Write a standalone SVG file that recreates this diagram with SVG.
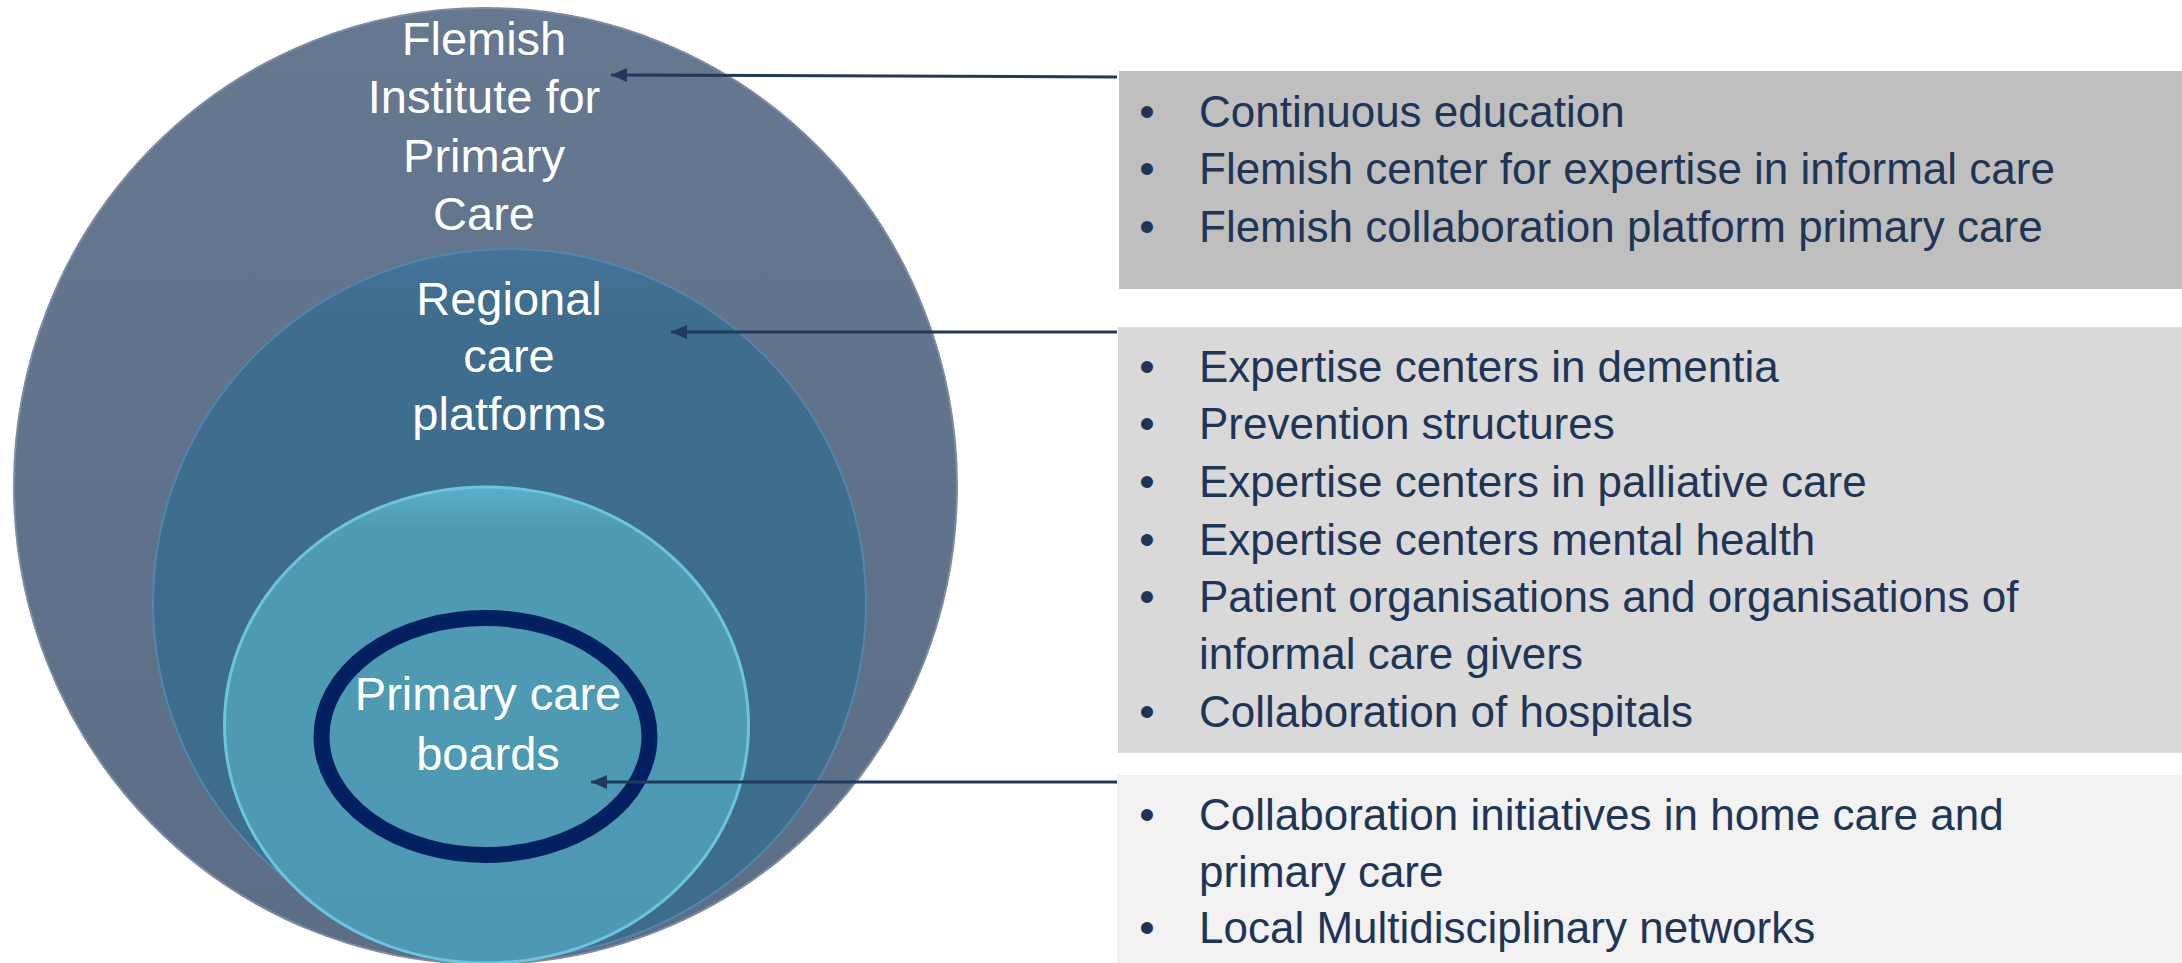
<svg xmlns="http://www.w3.org/2000/svg" width="2182" height="963" viewBox="0 0 2182 963">
<style>
.lbl{font-family:"Liberation Sans",Arial,sans-serif;font-size:47px;fill:#ffffff;text-anchor:middle}
.li{font-family:"Liberation Sans",Arial,sans-serif;font-size:44px;fill:#1f3556}
.bul{font-family:"Liberation Sans",Arial,sans-serif;font-size:44px;fill:#1f3556;text-anchor:middle}
.conn{stroke:#1f3a5a;stroke-width:3;fill:none}
</style>
<defs>
<marker id="ah" markerUnits="userSpaceOnUse" markerWidth="18" markerHeight="16" refX="16" refY="8" orient="auto">
<path d="M0,1 L16,8 L0,15 Z" fill="#1f3a5a"/>
</marker>
<linearGradient id="gOuter" x1="0" y1="0" x2="0" y2="1">
<stop offset="0" stop-color="#66788f"/>
<stop offset="1" stop-color="#5c6e86"/>
</linearGradient>
<linearGradient id="gMid" x1="0" y1="0" x2="0" y2="1">
<stop offset="0" stop-color="#44729a"/>
<stop offset="0.1" stop-color="#3f6d8d"/>
<stop offset="1" stop-color="#3e6c8c"/>
</linearGradient>
<linearGradient id="gIn" x1="0" y1="0" x2="0" y2="1">
<stop offset="0" stop-color="#5aaecb"/>
<stop offset="0.08" stop-color="#4f9bb4"/>
<stop offset="1" stop-color="#4d99b3"/>
</linearGradient>
</defs>

<g id="outer-circle">
<ellipse cx="485.5" cy="486" rx="471.5" ry="478" fill="url(#gOuter)" stroke="#7d8ca2" stroke-width="2"/>
<text class="lbl" x="484" y="55">Flemish</text>
<text class="lbl" x="484" y="113">Institute for</text>
<text class="lbl" x="484" y="172">Primary</text>
<text class="lbl" x="484" y="230">Care</text>
</g>

<g id="middle-circle">
<ellipse cx="509.5" cy="603" rx="356.5" ry="354" fill="url(#gMid)" stroke="#5288ad" stroke-width="2"/>
<text class="lbl" x="509" y="315">Regional</text>
<text class="lbl" x="509" y="372">care</text>
<text class="lbl" x="509" y="430">platforms</text>
</g>

<g id="inner-circle">
<ellipse cx="486.5" cy="725" rx="262" ry="238" fill="url(#gIn)" stroke="#6cc4e0" stroke-width="3"/>
<ellipse cx="485.5" cy="736.5" rx="164" ry="118.5" fill="none" stroke="#002060" stroke-width="16"/>
<text class="lbl" x="488" y="710">Primary care</text>
<text class="lbl" x="488" y="770">boards</text>
</g>

<g id="box-flemish">
<rect x="1119" y="71" width="1063" height="218" fill="#bfbfbf"/>
<text class="bul" x="1147" y="127">•</text>
<text class="li" x="1199" y="127">Continuous education</text>
<text class="bul" x="1147" y="184">•</text>
<text class="li" x="1199" y="184">Flemish center for expertise in informal care</text>
<text class="bul" x="1147" y="242">•</text>
<text class="li" x="1199" y="242">Flemish collaboration platform primary care</text>
</g>

<g id="box-regional">
<rect x="1118" y="327" width="1064" height="426" fill="#d9d9d9"/>
<text class="bul" x="1147" y="382">•</text>
<text class="li" x="1199" y="382">Expertise centers in dementia</text>
<text class="bul" x="1147" y="439">•</text>
<text class="li" x="1199" y="439">Prevention structures</text>
<text class="bul" x="1147" y="497">•</text>
<text class="li" x="1199" y="497">Expertise centers in palliative care</text>
<text class="bul" x="1147" y="555">•</text>
<text class="li" x="1199" y="555">Expertise centers mental health</text>
<text class="bul" x="1147" y="612">•</text>
<text class="li" x="1199" y="612">Patient organisations and organisations of</text>
<text class="li" x="1199" y="669">informal care givers</text>
<text class="bul" x="1147" y="727">•</text>
<text class="li" x="1199" y="727">Collaboration of hospitals</text>
</g>

<g id="box-local">
<rect x="1117" y="775" width="1065" height="188" fill="#f2f2f2"/>
<text class="bul" x="1147" y="830">•</text>
<text class="li" x="1199" y="830">Collaboration initiatives in home care and</text>
<text class="li" x="1199" y="887">primary care</text>
<text class="bul" x="1147" y="943">•</text>
<text class="li" x="1199" y="943">Local Multidisciplinary networks</text>
</g>

<g id="connectors">
<line class="conn" x1="1117" y1="77" x2="611" y2="75" marker-end="url(#ah)"/>
<line class="conn" x1="1117" y1="332" x2="671" y2="332" marker-end="url(#ah)"/>
<line class="conn" x1="1117" y1="782" x2="591" y2="782" marker-end="url(#ah)"/>
</g>
</svg>
